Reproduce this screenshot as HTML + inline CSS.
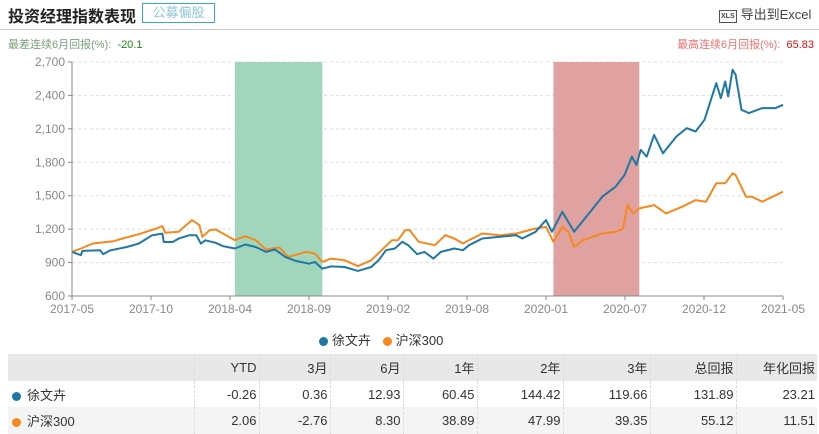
<!DOCTYPE html>
<html><head><meta charset="utf-8">
<style>
*{margin:0;padding:0;box-sizing:border-box}
body{width:819px;height:434px;background:#fff;font-family:"Liberation Sans","Noto Sans CJK SC",sans-serif;position:relative;overflow:hidden;color:#333}
.abs{position:absolute}
table{border-collapse:collapse;font-size:13px}
td{height:26.7px;text-align:right;padding-right:2px;border-right:1px dashed #ddd;white-space:nowrap}
td:last-child{border-right:none}
.dot{display:inline-block;width:9px;height:9px;border-radius:50%;margin:0 6px 0 4px;vertical-align:-1px}
</style></head><body>
<div class="abs" style="left:8px;top:3px;font-size:16px;font-weight:bold;color:#222">投资经理指数表现</div>
<div class="abs" style="left:142px;top:3px;width:73px;height:20px;border:1px solid #3aa7c4;color:#8fc6d8;font-size:13px;text-align:center;line-height:18px">公募偏股</div>
<div class="abs" style="left:719px;top:4px;font-size:13px;color:#444"><span style="display:inline-block;font-size:7px;border:1px solid #555;padding:2px 1px;margin-right:4px;vertical-align:1px;font-weight:bold">XLS</span>导出到Excel</div>
<div class="abs" style="left:0;top:29px;width:819px;height:1px;background:#ccc"></div>
<div class="abs" style="left:8px;top:36px;font-size:11px;color:#7aa07a">最差连续6月回报(%):&nbsp; <span style="color:#1a8a1a">-20.1</span></div>
<div class="abs" style="right:5px;top:36px;font-size:11px;color:#f07070">最高连续6月回报(%):&nbsp; <span style="color:#e01010">65.83</span></div>
<svg class="abs" style="left:0;top:0" width="819" height="350">
<g id="grid"></g><g id="bands"></g><g id="lines"></g><g id="axes"></g>
</svg>
<div class="abs" style="left:319px;top:330px;font-size:13px;color:#333">
<span><span class="dot" style="background:#1f77a4;margin:0 4px 0 0"></span>徐文卉</span>
<span style="margin-left:8px"><span class="dot" style="background:#f5891d;margin:0 4px 0 0"></span>沪深300</span>
</div>
<table class="abs" style="left:8px;top:354px;width:809px">
<colgroup><col style="width:186px"><col style="width:65px"><col style="width:71px"><col style="width:73px"><col style="width:74px"><col style="width:86px"><col style="width:87px"><col style="width:86px"><col style="width:81px"></colgroup>
<tr style="background:#e8e8e8"><td></td><td>YTD</td><td>3月</td><td>6月</td><td>1年</td><td>2年</td><td>3年</td><td>总回报</td><td>年化回报</td></tr>
<tr style="background:#fff"><td style="text-align:left"><span class="dot" style="background:#1f77a4"></span>徐文卉</td><td>-0.26</td><td>0.36</td><td>12.93</td><td>60.45</td><td>144.42</td><td>119.66</td><td>131.89</td><td>23.21</td></tr>
<tr style="background:#f4f4f4"><td style="text-align:left"><span class="dot" style="background:#f5891d"></span>沪深300</td><td>2.06</td><td>-2.76</td><td>8.30</td><td>38.89</td><td>47.99</td><td>39.35</td><td>55.12</td><td>11.51</td></tr>
</table>
<script>
const xTickLabels=["2017-05","2017-10","2018-04","2018-09","2019-02","2019-08","2020-01","2020-07","2020-12","2021-05"];
const yTicks=[600,900,1200,1500,1800,2100,2400,2700];
const fundMonths=[0,0.6,0.7,1.9,2.1,2.6,3.7,4.5,5.4,6.1,6.2,6.8,7.2,7.9,8.4,8.7,9.0,9.7,10.2,11.0,11.7,12.4,13.1,13.7,14.4,15.1,16.0,16.4,16.9,17.5,18.4,19.3,20.2,20.7,21.2,21.8,22.3,22.7,23.3,23.8,24.4,24.9,25.8,26.4,26.8,27.7,28.9,30.0,30.4,31.3,32.0,32.4,33.1,33.5,33.9,34.9,35.8,36.7,37.3,37.8,38.1,38.4,38.8,39.3,39.9,40.8,41.5,42.1,42.7,43.5,43.8,44.1,44.3,44.6,44.8,45.2,45.7,46.6,47.5,48.0];
const fundValues=[996,966,1005,1010,975,1010,1040,1070,1145,1160,1085,1085,1115,1145,1145,1070,1100,1077,1047,1026,1062,1040,996,1017,951,915,890,905,845,866,860,825,860,920,1011,1026,1086,1056,975,996,936,996,1026,1011,1056,1116,1131,1146,1116,1176,1281,1176,1356,1266,1176,1341,1491,1581,1686,1851,1776,1911,1851,2046,1881,2031,2106,2076,2181,2511,2376,2526,2391,2631,2586,2271,2241,2286,2286,2316];
const csiMonths=[0,0.6,1.4,2.8,3.4,4.5,5.7,6.1,6.3,7.2,8.1,8.6,8.8,9.3,9.7,10.4,11.0,11.7,12.4,13.1,14.0,14.6,15.8,16.4,16.9,17.5,18.4,19.3,20.2,20.9,21.6,22.0,22.5,22.8,23.4,24.5,25.2,25.8,26.4,26.8,27.7,28.9,30.0,31.3,32.0,32.5,33.1,33.5,33.9,34.5,35.8,36.7,37.2,37.5,37.9,38.3,39.3,40.1,41.2,42.1,42.8,43.5,44.1,44.6,44.8,45.5,45.9,46.6,47.3,48.0];
const csiValues=[996,1026,1071,1092,1116,1155,1206,1227,1167,1176,1281,1236,1131,1191,1197,1146,1101,1137,1101,1017,1035,951,996,981,906,936,921,867,920,1011,1101,1101,1191,1191,1086,1056,1146,1116,1071,1101,1161,1146,1161,1206,1221,1086,1221,1176,1041,1101,1161,1176,1206,1416,1341,1386,1416,1341,1401,1461,1446,1611,1611,1701,1686,1491,1491,1446,1491,1536];
const worstPeriod=[11.0,16.9];
const bestPeriod=[32.5,38.3];
const X0=72,X1=783,Y0=296,Y1=62,MMAX=48,VMIN=600,VMAX=2700;
const xs=m=>X0+(m/MMAX)*(X1-X0);
const ys=v=>Y0-(v-VMIN)/(VMAX-VMIN)*(Y0-Y1);
const NS="http://www.w3.org/2000/svg";
function mk(tag,attrs,parent){const e=document.createElementNS(NS,tag);for(const k in attrs)e.setAttribute(k,attrs[k]);document.getElementById(parent).appendChild(e);return e;}
yTicks.forEach(v=>{
  if(v>VMIN){const g=mk('line',{x1:X0,x2:X1,y1:ys(v),y2:ys(v),stroke:'#ddd','stroke-dasharray':'3,3'},'grid');
  
  }
  const t=mk('text',{x:X0-7,y:ys(v)+4,'text-anchor':'end','font-size':12,fill:'#888','font-family':'Liberation Sans'},'axes');
  t.textContent=v.toLocaleString('en-US');
  
  
  const k=mk('line',{x1:X0-4,x2:X0,y1:ys(v),y2:ys(v),stroke:'#888'},'axes');
  
  
});
[[worstPeriod,'#a1d6bd','worst-period-band'],[bestPeriod,'#e0a1a1','best-period-band']].forEach(([p,c,n])=>{
  const r=mk('rect',{x:xs(p[0]),y:Y1,width:xs(p[1])-xs(p[0]),height:Y0-Y1,fill:c},'bands');
  
  
});
const ax=mk('line',{x1:X0,x2:X1,y1:Y0,y2:Y0,stroke:'#888'},'axes');


const ay=mk('line',{x1:X0,x2:X0,y1:Y1,y2:Y0,stroke:'#888'},'axes');


xTickLabels.forEach((l,i)=>{
  const m=i*MMAX/(xTickLabels.length-1);
  const k=mk('line',{x1:xs(m),x2:xs(m),y1:Y0,y2:Y0+4,stroke:'#888'},'axes');
  
  
  const t=mk('text',{x:xs(m),y:Y0+17,'text-anchor':'middle','font-size':12,fill:'#888','font-family':'Liberation Sans'},'axes');
  t.textContent=l;
  
  
});
function line(ms,vs,c,n){
  const d=ms.map((m,i)=>(i?'L':'M')+xs(m).toFixed(1)+','+ys(vs[i]).toFixed(1)).join('');
  const p=mk('path',{d:d,fill:'none',stroke:c,'stroke-width':2,'stroke-linejoin':'round'},'lines');
  
  
}
line(csiMonths,csiValues,'#f5891d','csi300-line');
line(fundMonths,fundValues,'#1f77a4','fund-line');
</script>
</body></html>
